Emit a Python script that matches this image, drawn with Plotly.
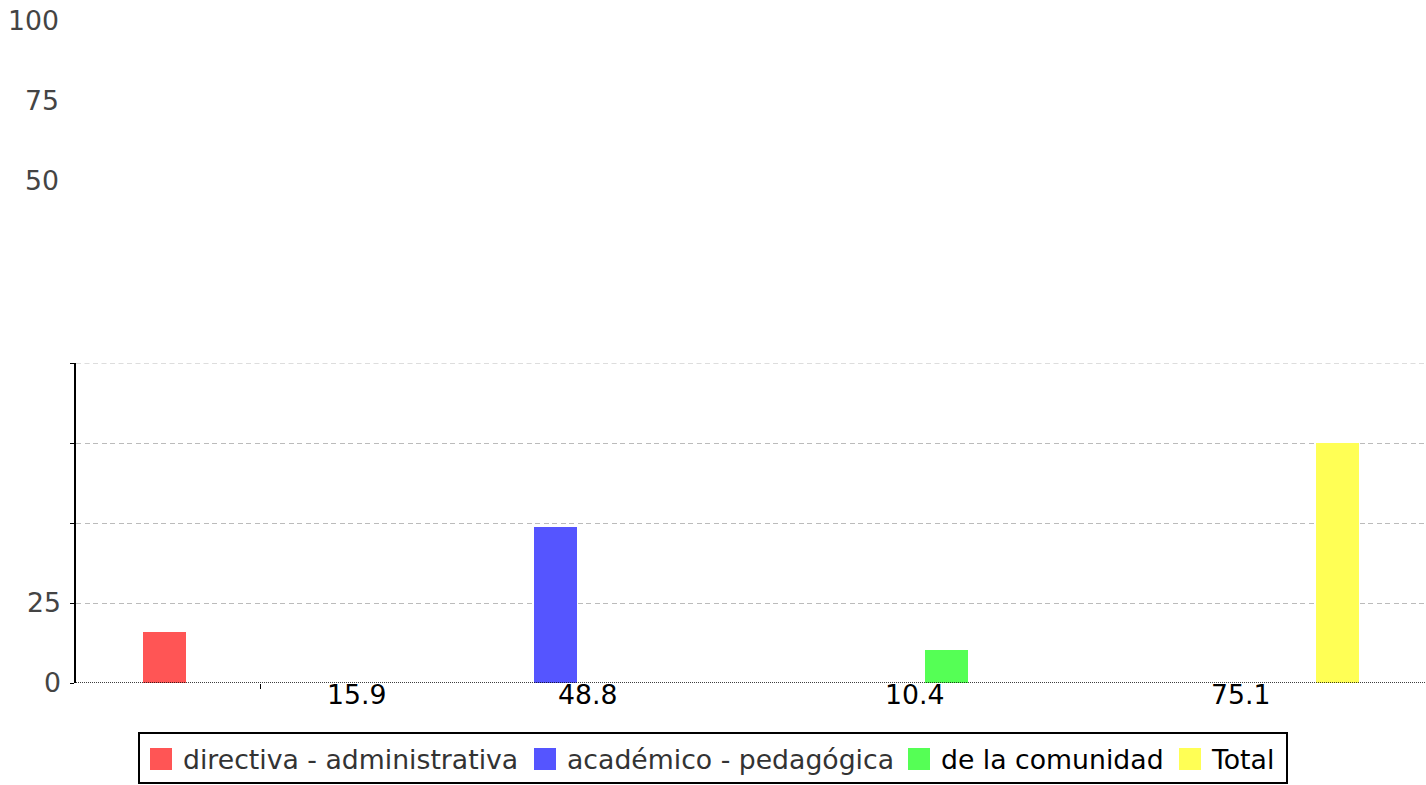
import plotly.graph_objects as go

# ---- data ----
categories = ["directiva - administrativa", "académico - pedagógica", "de la comunidad", "Total"]
values = [15.9, 48.8, 10.4, 75.1]
value_labels = ["15.9", "48.8", "10.4", "75.1"]
colors = ["#FF5555", "#5555FF", "#55FF55", "#FFFF55"]
y_ticks = [0, 25, 50, 75, 100]

# ---- layout geometry (pixels) ----
W, H = 1426, 785
ML, MR, MT, MB = 76, 0, 363, 102
PW = W - ML - MR
PH = H - MT - MB
FONT = "DejaVu Sans"
FS = 26.7
GRID_DASH = "5px,3.5px"
GRID_COLOR = "#BBBBBB"

def px_x(px):
    return (px - ML) / PW

def px_y(py):
    return (H - MB - py) / PH

fig = go.Figure()
for cat, val, col in zip(categories, values, colors):
    fig.add_trace(go.Bar(
        x=[cat], y=[val], name=cat, marker=dict(color=col, line=dict(width=0)),
        width=0.11, showlegend=False, hoverinfo="y",
    ))

annotations = []
# misplaced upper y tick labels (as in the reference)
for t, py in zip(y_ticks[2:], [180.5, 100.5, 20.5]):
    annotations.append(dict(
        x=px_x(61), y=px_y(py), xref="paper", yref="paper", text=str(t),
        showarrow=False, xanchor="right", yanchor="middle",
        font=dict(family=FONT, size=FS, color="#444444"),
    ))
# value labels under the axis
label_pos = [0.4898, 1.0831, 1.9169, 2.7506]
for lab, xp in zip(value_labels, label_pos):
    annotations.append(dict(
        x=xp, y=px_y(694), xref="x", yref="paper", text=lab,
        showarrow=False, xanchor="center", yanchor="middle",
        font=dict(family=FONT, size=FS, color="#000000"),
    ))

# custom legend
shapes = []
shapes.append(dict(type="rect", xref="paper", yref="paper",
                   x0=px_x(139), x1=px_x(1287), y0=px_y(733), y1=px_y(783),
                   line=dict(color="black", width=2), fillcolor="white", layer="below"))
sq_left = [150, 534, 908, 1179]
txt_left = [181, 565, 939, 1209]
txt_colors = ["#333333", "#333333", "#000000", "#000000"]
for cat, col, sx, tx, tc in zip(categories, colors, sq_left, txt_left, txt_colors):
    shapes.append(dict(type="rect", xref="paper", yref="paper",
                       x0=px_x(sx), x1=px_x(sx + 22), y0=px_y(748), y1=px_y(770),
                       line=dict(width=0), fillcolor=col))
    annotations.append(dict(
        x=px_x(tx), y=px_y(759), xref="paper", yref="paper", text=cat,
        showarrow=False, xanchor="left", yanchor="middle",
        font=dict(family=FONT, size=FS, color=tc),
    ))

# top gridline (plotly omits the one on the range edge)
shapes.append(dict(type="line", xref="paper", yref="y", x0=0, x1=1, y0=y_ticks[-1], y1=y_ticks[-1],
                   line=dict(color=GRID_COLOR, width=1, dash=GRID_DASH), layer="below"))
# dotted zero/base line
shapes.append(dict(type="line", xref="paper", yref="y", x0=0, x1=1, y0=0, y1=0,
                   line=dict(color="black", width=1.5, dash="1px,1px")))

fig.update_layout(
    width=W, height=H, autosize=False,
    margin=dict(l=ML, r=MR, t=MT, b=MB, pad=0),
    paper_bgcolor="white", plot_bgcolor="white",
    barmode="overlay", bargap=0, showlegend=False,
    annotations=annotations, shapes=shapes,
    font=dict(family=FONT, size=FS, color="#444444"),
)
fig.update_xaxes(
    type="category", categoryorder="array", categoryarray=categories,
    range=[-0.2263, 3.2263], showgrid=False, zeroline=False, showline=False,
    tickmode="array", tickvals=[0.2468], ticktext=[""], ticks="outside",
    ticklen=5, tickcolor="black", tickwidth=1, showticklabels=False,
)
fig.update_yaxes(
    range=[0, 100], tickmode="array", tickvals=y_ticks,
    ticktext=["0", "25", "", "", ""],
    showgrid=True, gridcolor=GRID_COLOR, griddash=GRID_DASH, gridwidth=1,
    zeroline=False, showline=True, linecolor="black", linewidth=1.5,
    ticks="outside", ticklen=4, tickcolor="black", tickwidth=1,
    tickfont=dict(family=FONT, size=FS, color="#444444"),
    ticklabelstandoff=4,
)

fig.write_html("out.html", config={"displayModeBar": False},
               post_script="document.body.style.margin='0';")
